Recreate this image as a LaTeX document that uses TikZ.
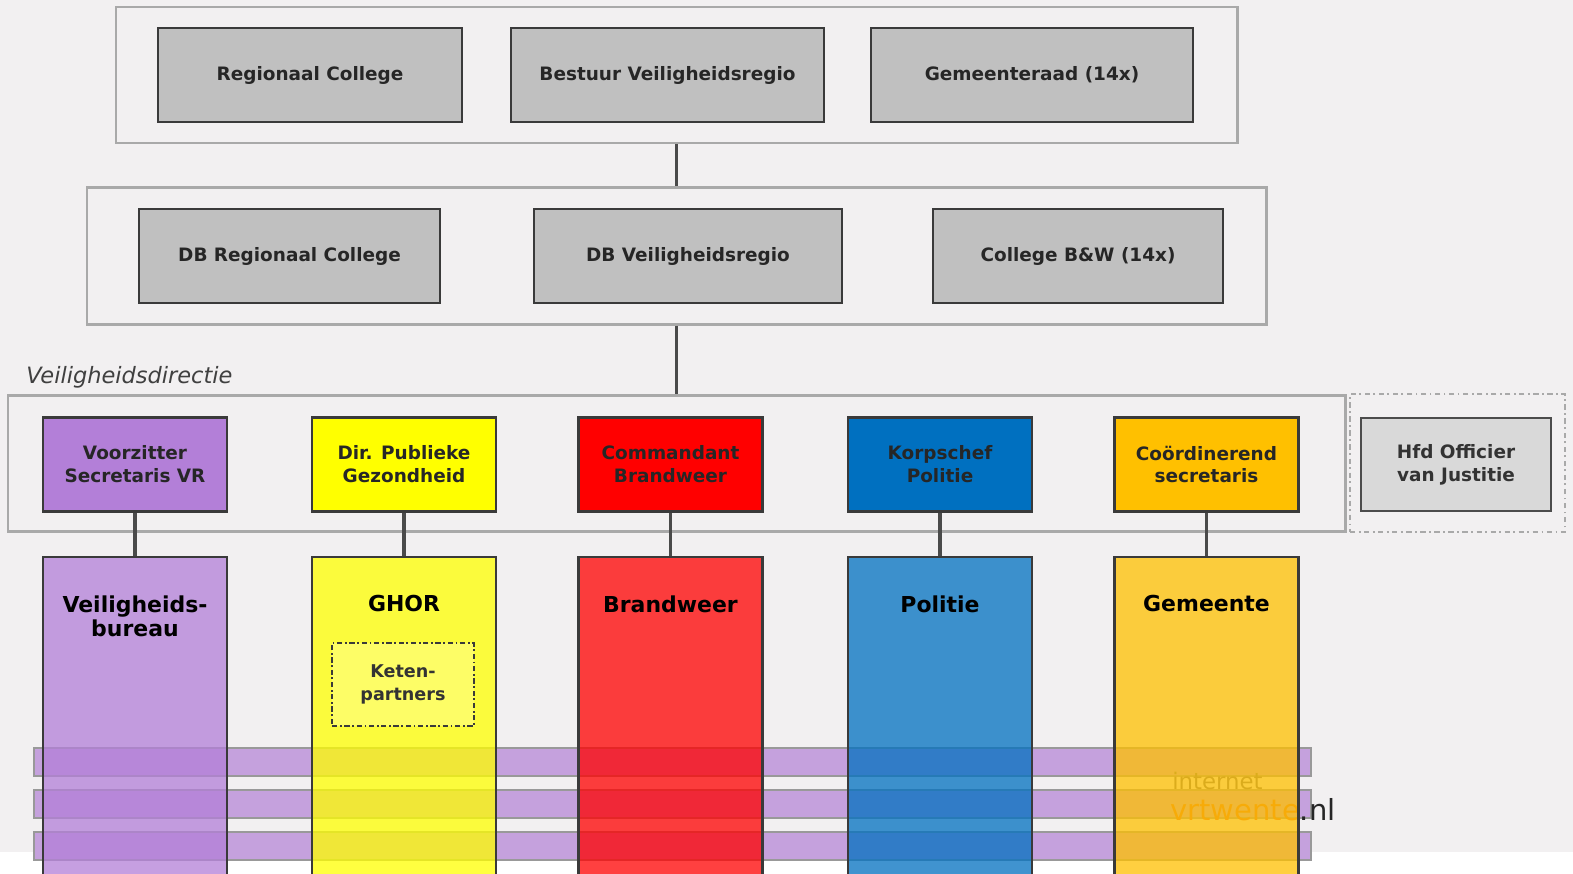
\documentclass[tikz,border=0pt]{standalone}
\usepackage{fontspec}
\setmainfont{DejaVu Sans}
\usetikzlibrary{positioning}
\definecolor{vr-bg}{HTML}{F2F0F1}
\definecolor{vr-frame}{HTML}{A9A9A9}
\definecolor{vr-grey}{HTML}{C0C0C0}
\definecolor{vr-light}{HTML}{D9D9D9}
\definecolor{vr-dark}{HTML}{3A3A3A}
\definecolor{vr-link}{HTML}{4A4A4A}
\definecolor{vr-purple}{HTML}{B37FD8}
\definecolor{vr-yellow}{HTML}{FFFF00}
\definecolor{vr-red}{HTML}{FF0000}
\definecolor{vr-blue}{HTML}{0070C0}
\definecolor{vr-orange}{HTML}{FFC000}
\definecolor{vr-band}{HTML}{C5A1DD}
\definecolor{vr-keten}{HTML}{FDFD66}
\definecolor{vr-logo}{HTML}{E07020}

\begin{document}
\begin{tikzpicture}[x=0.02cm, y=-0.02cm,
  font=\bfseries\fontsize{10.5}{13}\selectfont,
  box size/.style 2 args={minimum width=#1*0.02cm, minimum height=#2*0.02cm},
  frame/.style={draw=vr-frame, line width=1.7pt, fill=vr-bg, inner sep=0pt},
  grey box/.style={draw=vr-dark, line width=1.5pt, fill=vr-grey, text=black!85,
    inner sep=0pt, box size={#1}{94}},
  lead/.style={draw=vr-dark, line width=1.4pt, align=center, inner sep=0pt,
    text=black!85, box size={184}{94}},
  column/.style={draw=vr-dark, line width=1.4pt, fill opacity=0.75, box size={184}{323}},
  column title/.style={anchor=north, align=center, inner sep=0pt,
    font=\bfseries\fontsize{12.5}{14.2}\selectfont},
  band/.style={draw=black!40, line width=1.2pt, fill=vr-band, box size={1277}{28}},
  link/.style={draw=vr-link, line width=2.2pt}]
\path[use as bounding box, clip] (0,0) rectangle (1573,873);
\fill[vr-bg] (0,0) rectangle (1573,852);
\fill[white] (0,852) rectangle (1573,873);

% bestuur
\node[frame, box size={1121}{136}]
  (tier-bestuur)
  at (676.5, 75)
  {};
\node[grey box=304] (regionaal) at (310, 75) {Regionaal College};
\node[grey box=313] (bestuur) at (667.5, 75) {Bestuur Veiligheidsregio};
\node[grey box=322] (gemeenteraad) at (1032, 75) {Gemeenteraad (14x)};

% dagelijks bestuur
\node[frame, box size={1179}{137}]
  (tier-db)
  at (676.5, 255.5)
  {};
\draw[link] (tier-bestuur) -- (tier-db);
\node[grey box=301] (db-regionaal) at (289.5, 256) {DB Regionaal College};
\node[grey box=308] (db-vr) at (688, 256) {DB Veiligheidsregio};
\node[grey box=290] (college) at (1078, 256) {College B\&W (14x)};

% veiligheidsdirectie
\node[frame, box size={1337}{136}]
  (tier-directie)
  at (676.5, 463)
  {};
\draw[link] (tier-db) -- (tier-directie);
\node[anchor=west, inner sep=0pt, text=black!75,
    font=\mdseries\itshape\fontsize{12.8}{14}\selectfont]
  (directie-label)
  at (26, 377)
  {Veiligheidsdirectie};
\node[frame, dash pattern=on 3pt off 2pt on 1pt off 2pt, line width=1.3pt, box size={215}{138}]
  (justitie-frame)
  at (1457.5, 463)
  {};
\node[draw=black!70, line width=1.5pt, fill=vr-light, align=center, text=black!80,
    inner sep=0pt, box size={190}{93}]
  (justitie)
  at (1456, 464.5)
  {Hfd Officier\\van Justitie};

% processen
\foreach \y [count=\i] in {762, 804, 846}
  \node[band] (band-\i) at (672.5, \y) {};
\node[anchor=base west, inner sep=0pt, text=black!55,
    font=\mdseries\fontsize{13}{13}\selectfont]
  (site-top)
  at (1172, 789)
  {internet};
\node[anchor=base west, inner sep=0pt, text=black!85,
    font=\mdseries\fontsize{16.5}{17}\selectfont]
  (site-name)
  at (1170, 820)
  {\textcolor{vr-logo}{vrtwente}.nl};

% kolommen
\foreach \name/\x/\shade/\lead/\title in {
    vb/135/vr-purple/Voorzitter\\Secretaris VR/Veiligheids-\\bureau,
    ghor/404/vr-yellow/Dir. Publieke\\Gezondheid/GHOR,
    bw/670.5/vr-red/Commandant\\Brandweer/Brandweer,
    pol/940/vr-blue/Korpschef\\Politie/Politie,
    gem/1206.5/vr-orange/Coördinerend\\secretaris/Gemeente} {
  \node[lead, fill=\shade]
    (lead-\name)
    at (\x, 464.5)
    {\lead};
  \node[column, fill=\shade]
    (col-\name)
    at (\x, 718.5)
    {}
    edge[link] (lead-\name);
  \node[column title]
    (title-\name)
    at (\x, 595)
    {\title};
}
\node[draw=vr-dark, line width=1.4pt, dash pattern=on 3pt off 1.5pt on 1pt off 1.5pt,
    fill=vr-keten, align=center, inner sep=0pt, text=black!80,
    font=\bfseries\fontsize{10}{13}\selectfont, box size={142}{83}]
  (keten)
  at (403, 684.5)
  {Keten-\\partners};
\end{tikzpicture}
\end{document}
